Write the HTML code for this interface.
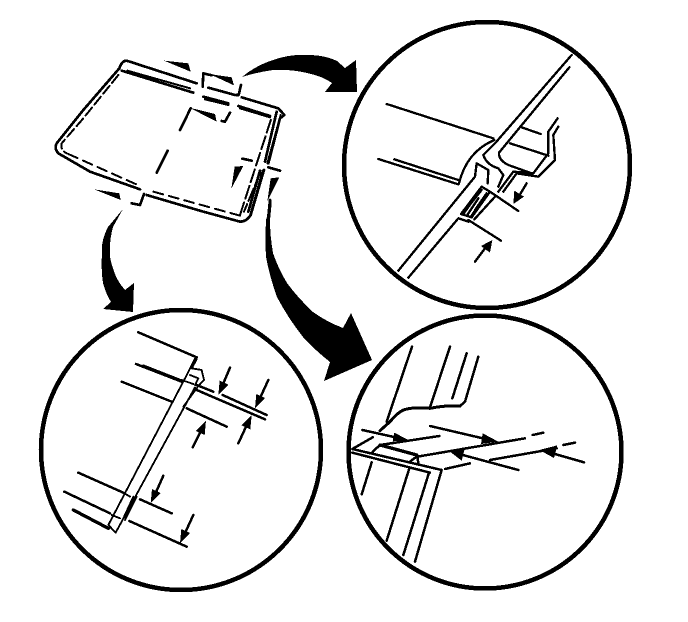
<!DOCTYPE html>
<html><head><meta charset="utf-8"><style>
html,body{margin:0;padding:0;background:#fff}
svg{display:block}
.s{fill:none;stroke:#000;stroke-linecap:round;stroke-linejoin:round}
</style></head><body>
<svg width="688" height="622" viewBox="0 0 688 622" xmlns="http://www.w3.org/2000/svg" shape-rendering="crispEdges">
<rect width="688" height="622" fill="#fff"/>
<g fill="none" stroke="#000" stroke-width="4.5">
<circle cx="487" cy="165" r="143"/>
<circle cx="181" cy="450" r="140"/>
<circle cx="485" cy="452" r="136.5"/>
</g>
<!-- big arrows -->
<path d="M242,77 Q255,66 273,60 Q290,54 307,55 Q325,55 337,61 L345,68 L356,60 L357,92 L325,92 L332,83 Q322,76 307,73 Q290,69 273,70 Q258,72 242,77Z" fill="#000"/>
<path d="M123,209 L108,227 Q101,240 102,253 Q101,270 103,283 Q106,294 111,302 L103,309 L133,312 L134,283 L125,290 Q116,280 113,268 Q109,258 110,247 Q110,238 113,227Z" fill="#000"/>
<path d="M272,200 L266,220 Q265,240 266,257 Q270,278 277,297 Q288,318 303,337 Q316,351 330,362 L324,381 L372,360 L351,313 L343,328 Q327,322 313,312 Q298,298 287,283 Q278,268 273,253 Q270,236 270,220Z" fill="#000"/>
<!-- windshield -->
<g transform="translate(40,40) scale(.33333)">
<g class="s" stroke-width="8">
<path d="M470,130 L260,62 Q245,62 238,85 L130,210 L50,310 Q42,325 55,340 L150,395 L300,448"/>
<path d="M320,465 L490,515 L600,545 Q620,545 632,525 L672,390"/>
<path d="M685,370 L720,235 L733,225 L715,205 L605,172"/>
<path d="M245,92 L460,158"/>
<path d="M490,170 L565,190"/><path d="M595,198 L690,228"/>
<path d="M710,215 L675,365"/><path d="M660,392 L625,515"/>
<path d="M490,100 L488,140 M490,100 L515,106"/>
<path d="M505,143 L585,165 M603,135 L596,165 L590,165"/>
<path d="M452,205 L420,270 M383,332 L350,398 M570,218 L555,245 L545,243"/>
<path d="M312,462 L300,495 L275,490"/>
<path d="M607,356 L635,362 M685,382 L720,392"/>
<path d="M690,480 L684,540"/>
</g>
<g class="s" stroke-width="6">
<path d="M262,92 L450,145 M495,178 L565,195 M600,205 L690,232"/>
<path d="M722,225 L682,370 M668,392 L632,520"/>
<path d="M235,105 L130,235 L65,310 Q60,330 80,340" stroke-dasharray="30 12"/>
<path d="M85,342 L300,438" stroke-dasharray="30 18"/>
<path d="M340,455 L600,527" stroke-dasharray="30 18"/>
<path d="M600,525 L695,232" stroke-dasharray="40 12"/>
<path d="M660,400 L612,515" stroke-dasharray="40 10"/>
</g>
<g fill="#000">
<polygon points="372,62 445,70 452,95"/>
<polygon points="508,102 575,112 582,136"/>
<polygon points="448,203 525,222 530,245"/>
<polygon points="610,378 574,446 584,380"/>
<polygon points="718,412 682,484 692,415"/>
<polygon points="162,448 238,460 242,480"/>
</g>
</g>
<!-- top right detail -->
<g transform="translate(335,10) scale(.33333)">
<g class="s" stroke-width="7">
<path d="M155,282 L475,385 M130,447 L370,523 M178,448 L370,510"/>
<path d="M478,390 Q395,425 372,520"/>
<path d="M710,135 L480,400 L445,435 Q455,465 490,475 L505,495 L490,530"/>
<path d="M703,172 L492,428 Q490,450 520,465 L590,490"/>
<path d="M560,352 L617,372 M525,400 L640,437"/>
<path d="M668,325 L640,365 L640,430 L595,490 L535,485 L490,545"/>
<path d="M670,350 L655,375 L660,450 L610,500 L545,490 L505,545"/>
<path d="M190,782 L420,500 L425,460 L460,480 L458,520"/>
<path d="M220,803 L370,625 L400,635"/>
<path d="M378,612 L440,530 L465,545 L410,622Z"/>
<path d="M385,612 L415,570 M395,618 L430,565 M408,620 L445,565 M420,600 L455,550 M400,590 L440,540"/>
<path d="M465,545 L550,603 M400,630 L498,692"/>
<path d="M575,520 L548,565 M420,755 L450,715"/>
<path d="M418,628 L480,560"/>
</g>
<g fill="#000">
<polygon points="535,582 538,542 567,560"/>
<polygon points="472,690 438,708 465,728"/>
</g>
</g>
<!-- bottom left detail -->
<g transform="translate(30,300) scale(.33333)">
<g class="s" stroke-width="7.5">
<path d="M325,97 L500,172 M318,192 L455,245 M340,197 L450,240"/>
<path d="M500,255 L550,275 M275,245 L425,305 M470,325 L590,380"/>
<path d="M578,285 L710,345 M500,270 L705,358"/>
<path d="M145,518 L280,578 M103,575 L240,640 M330,598 L425,640 M298,663 L470,740"/>
<path d="M130,630 L235,685" stroke-width="10"/>
<path d="M600,203 L575,262 M715,240 L685,305 M625,430 L655,365 M488,442 L518,382 M400,527 L372,590 M490,645 L460,710"/>
</g>
<g class="s" stroke-width="5.5">
<path d="M495,175 L465,235 L235,675 L257,698 L495,262"/>
<path d="M500,178 L485,205 L515,210 L522,240 L505,258 L460,320"/>
<path d="M480,225 L505,235 L495,255 M455,240 L490,252"/>
<path d="M320,590 L285,660 L298,630 M310,590 L280,655"/>
<path d="M280,578 L300,590 M245,645 L270,655"/>
</g>
<g fill="#000">
<polygon points="565,285 595,254 569,242"/>
<polygon points="675,325 705,294 679,282"/>
<polygon points="665,345 661,388 635,376"/>
<polygon points="528,362 524,405 498,393"/>
<polygon points="362,610 392,579 366,567"/>
<polygon points="450,730 480,699 454,687"/>
</g>
</g>
<!-- bottom right detail -->
<g transform="translate(340,300) scale(.33333)">
<g class="s" stroke-width="7.5">
<path d="M216,140 L140,365 M330,140 L270,322 M380,160 L337,295"/>
<path d="M415,170 L375,305 L360,318"/>
<path d="M360,318 Q320,315 270,325 Q220,320 190,330 Q170,340 150,365 L120,392" stroke-width="9"/>
<path d="M67,390 L180,415 M270,378 L450,420"/>
<path d="M37,447 L98,412 M98,455 L120,435 L298,408"/>
<path d="M120,435 L230,465" stroke-width="10"/>
<path d="M232,470 L555,415 M578,405 L610,398 M670,435 L705,428 M450,480 L650,445"/>
<path d="M350,460 L535,510 M732,487 L620,455"/>
<path d="M37,447 L305,510 M37,458 L270,518 M315,507 L390,490"/>
<path d="M95,487 L65,583 M208,505 L140,722 M267,518 L190,765 M305,510 L225,785"/>
<path d="M210,485 L232,468 L235,490"/>
</g>
<g fill="#000">
<polygon points="205,420 163,398 158,424"/>
<polygon points="475,425 428,400 423,432"/>
<polygon points="330,455 374,446 365,482"/>
<polygon points="598,450 652,436 642,474"/>
</g>
</g>
</svg>
</body></html>
